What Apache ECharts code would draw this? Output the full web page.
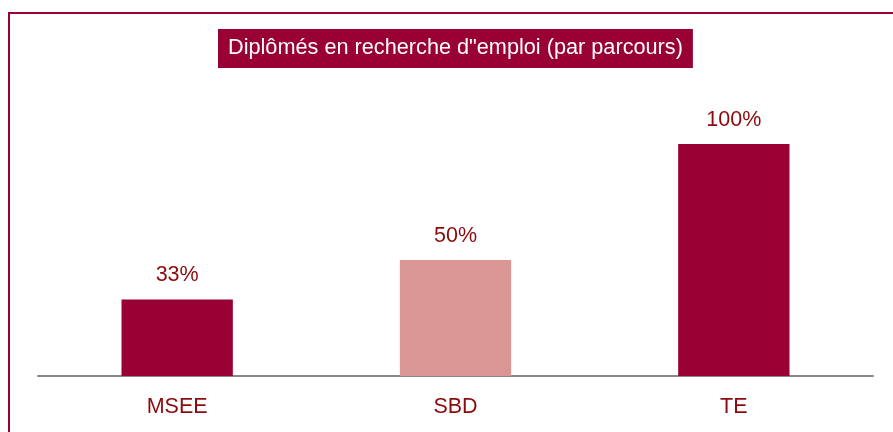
<!DOCTYPE html>
<html>
<head>
<meta charset="utf-8">
<script src="https://cdn.jsdelivr.net/npm/echarts@6/dist/echarts.min.js"></script>
<style>
  html, body { margin: 0; padding: 0; background: #fff; }
  #chart { width: 893px; height: 432px; }
</style>
</head>
<body>
<div id="chart"></div>
<script>
const categories = ['MSEE', 'SBD', 'TE']
const values = [33, 50, 100]
const barColors = ['#990033', '#d99694', '#990033']

const darkRed = '#990033'
const labelColor = '#8b0a0e'
const font = '"Liberation Sans", Arial, sans-serif'

const chart = echarts.init(document.getElementById('chart'))
chart.setOption({
  animation: false,
  title: {
    text: 'Diplômés en recherche d"emploi (par parcours)',
    left: 218,
    top: 29,
    backgroundColor: darkRed,
    padding: [5, 10],
    textStyle: {
      color: '#fff',
      fontFamily: font,
      fontWeight: 'normal',
      fontSize: 21.7,
      lineHeight: 29
    }
  },
  graphic: [{
    type: 'rect',
    shape: { x: 9, y: 13, width: 1000, height: 1000 },
    style: { fill: 'none', stroke: darkRed, lineWidth: 2 },
    silent: true
  }],
  grid: { left: 38, right: 20, top: 144, bottom: 56 },
  xAxis: {
    type: 'category',
    data: categories,
    axisLine: { lineStyle: { color: '#888', width: 2 } },
    axisTick: { show: false },
    axisLabel: {
      color: labelColor,
      fontFamily: font,
      fontSize: 21.5,
      margin: 20
    }
  },
  yAxis: {
    type: 'value',
    min: 0,
    max: 100,
    show: false
  },
  series: [{
    type: 'bar',
    barWidth: '40%',
    data: values.map((v, i) => ({ value: v, itemStyle: { color: barColors[i] } })),
    label: {
      show: true,
      position: 'top',
      distance: 13,
      color: labelColor,
      fontFamily: font,
      fontSize: 21.5,
      formatter: '{c}%'
    }
  }]
})
</script>
</body>
</html>
